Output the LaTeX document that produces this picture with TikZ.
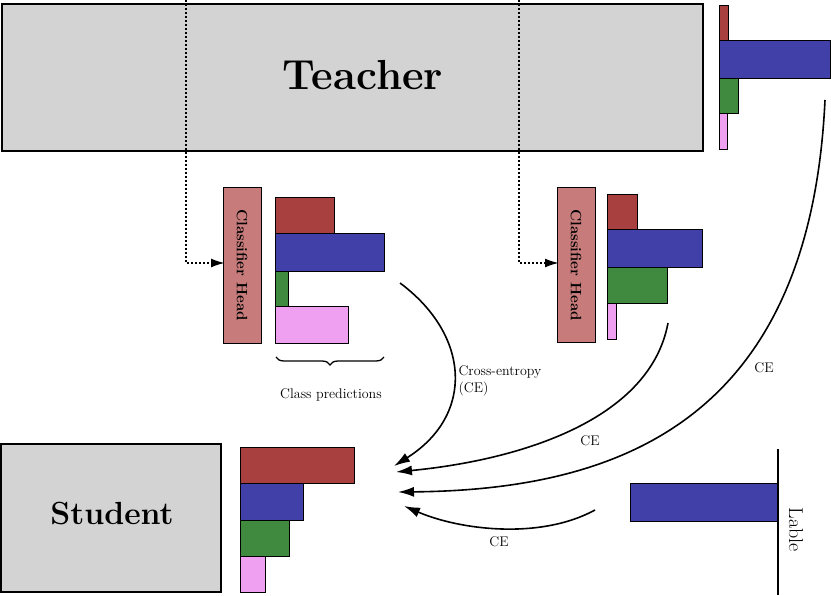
\documentclass[tikz,border=0pt]{standalone}
\usetikzlibrary{arrows.meta,decorations.pathreplacing}
\definecolor{barred}{HTML}{A84040}
\definecolor{barblue}{HTML}{4040A8}
\definecolor{bargreen}{HTML}{408A40}
\definecolor{barpink}{HTML}{F0A0F0}
\definecolor{boxgray}{HTML}{D3D3D3}
\definecolor{headred}{HTML}{C77B7B}
\newcommand{\fsz}[1]{\fontsize{#1}{1.2\dimexpr#1pt\relax}\selectfont}
\tikzset{
  bigbox/.style={draw,line width=1.5pt,fill=boxgray},
  headbox/.style={draw,fill=headred},
  bar/.style={draw,thin},
  ce/.style={line width=1.6pt,-{Latex[length=16pt,width=10pt]}},
  dotline/.style={line width=2pt,dotted,-{Latex[length=14pt,width=9pt]}},
  lossfont/.style={font=\fsz{14}},
}
\begin{document}
\begin{tikzpicture}[x=1pt,y=-1pt]
\useasboundingbox (0,0) rectangle (831,596);
% teacher
\draw[bigbox] (2,4) rectangle (703,151);
\node[font=\bfseries\fsz{42}] (teacher) at (363,75) {Teacher};
\draw[bar,fill=barred] (719,5) rectangle (728,40);
\draw[bar,fill=barblue] (719,40) rectangle (830,78);
\draw[bar,fill=bargreen] (719,78) rectangle (738,113);
\draw[bar,fill=barpink] (719,113) rectangle (727,149);
% classifier heads
\draw[headbox] (223,187) rectangle (261,343);
\node[font=\bfseries\fsz{15}, rotate=-90] (headA) at (242,265) {Classifier Head};
\draw[headbox] (557,187) rectangle (595,342);
\node[font=\bfseries\fsz{15}, rotate=-90] (headB) at (576,265) {Classifier Head};
\coordinate (tapA) at (186,0);
\coordinate (tapB) at (519,0);
\draw[dotline] (tapA) -- (186,263) -- (225,263);
\draw[dotline] (tapB) -- (519,263) -- (559,263);
% predictions A
\draw[bar,fill=barred] (275,197) rectangle (334,233);
\draw[bar,fill=barblue] (275,233) rectangle (384,271);
\draw[bar,fill=bargreen] (275,271) rectangle (288,306);
\draw[bar,fill=barpink] (275,306) rectangle (348,343);
\draw[line width=1.3pt,decorate,decoration={brace,mirror,amplitude=8pt}] (276,357) -- (384,357);
\node[lossfont] (classpred) at (331,395) {Class predictions};
% predictions B
\draw[bar,fill=barred] (607,194) rectangle (637,229);
\draw[bar,fill=barblue] (607,229) rectangle (702,267);
\draw[bar,fill=bargreen] (607,267) rectangle (667,303);
\draw[bar,fill=barpink] (607,303) rectangle (616,339);
% student
\draw[bigbox] (1,444) rectangle (221,592);
\node[font=\bfseries\fsz{32}] (student) at (112,514) {Student};
\draw[bar,fill=barred] (240,447) rectangle (354,483);
\draw[bar,fill=barblue] (240,483) rectangle (303,520);
\draw[bar,fill=bargreen] (240,520) rectangle (289,556);
\draw[bar,fill=barpink] (240,556) rectangle (265,592);
% label
\draw[bar,fill=barblue] (630,483) rectangle (778,521);
\draw[line width=2pt] (778,449) -- (778,595);
\node[font=\fsz{20}, rotate=-90] (lable) at (796,530) {Lable};
% losses
\coordinate (outA) at (400,283);
\coordinate (outB) at (668,323);
\coordinate (outT) at (825,100);
\coordinate (outL) at (595,510);
\coordinate (inA) at (394,466);
\coordinate (inB) at (396,472);
\coordinate (inT) at (398,492);
\coordinate (inL) at (404,506);
\draw[ce] (outA) .. controls (470,335) and (475,415) .. (inA);
\draw[ce] (outB) .. controls (650,420) and (520,460) .. (inB);
\draw[ce] (outT) .. controls (810,420) and (620,490) .. (inT);
\draw[ce] (outL) .. controls (540,540) and (460,530) .. (inL);
\node[lossfont, align=left, anchor=west] (celabA) at (455,381) {Cross-entropy\\(CE)};
\node[lossfont] (celabB) at (590,441) {CE};
\node[lossfont] (celabT) at (764,368) {CE};
\node[lossfont] (celabL) at (499,542) {CE};
\end{tikzpicture}
\end{document}
